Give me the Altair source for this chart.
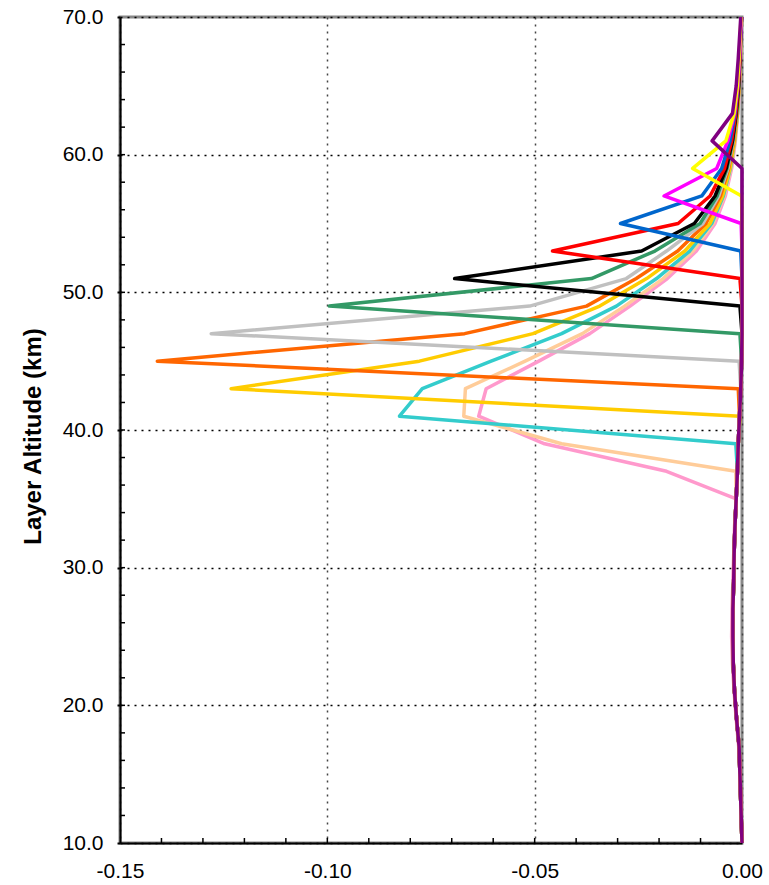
import altair as alt
import pandas as pd

# Layer altitudes (km), every 2 km
ALT = [9, 11, 13, 15, 17, 19, 21, 23, 25, 27, 29, 31, 33, 35, 37, 39,
       41, 43, 45, 47, 49, 51, 53, 55, 57, 59, 61, 63, 65, 67, 69, 71]

pink = [0, -0.0001, -0.0003, -0.0005, -0.0008, -0.0014, -0.0019, -0.0023, -0.0025, -0.0024,
        -0.0022, -0.0020, -0.0018, -0.0014, -0.0182, -0.0476, -0.0635, -0.0617, -0.0490, -0.0367,
        -0.0270, -0.0180, -0.0110, -0.0065, -0.0040, -0.0025, -0.0016, -0.0010, -0.0006, -0.0004,
        -0.0002, -0.0001]
peach = [0, -0.0001, -0.0003, -0.0005, -0.0007, -0.0013, -0.0018, -0.0021, -0.0022, -0.0022,
         -0.0020, -0.0019, -0.0017, -0.0014, -0.0015, -0.0435, -0.0671, -0.0667, -0.0523, -0.0385,
         -0.0283, -0.0190, -0.0118, -0.0070, -0.0043, -0.0027, -0.0017, -0.0011, -0.0007, -0.0004,
         -0.0002, -0.0001]
cyan = [0, -0.0001, -0.0003, -0.0005, -0.0007, -0.0013, -0.0018, -0.0021, -0.0022, -0.0022,
        -0.0020, -0.0019, -0.0017, -0.0014, -0.0011, -0.0015, -0.0826, -0.0771, -0.0605, -0.0435,
        -0.0303, -0.0206, -0.0126, -0.0073, -0.0045, -0.0028, -0.0018, -0.0011, -0.0007, -0.0004,
        -0.0002, -0.0001]
gold = [0, -0.0001, -0.0003, -0.0005, -0.0007, -0.0013, -0.0018, -0.0021, -0.0022, -0.0022,
        -0.0020, -0.0019, -0.0017, -0.0014, -0.0011, -0.0009, -0.0005, -0.1232, -0.0778, -0.0504,
        -0.0343, -0.0230, -0.0138, -0.0077, -0.0047, -0.0029, -0.0018, -0.0011, -0.0007, -0.0004,
        -0.0002, -0.0001]
orange = [0, -0.0001, -0.0003, -0.0005, -0.0007, -0.0013, -0.0018, -0.0021, -0.0022, -0.0022,
          -0.0020, -0.0019, -0.0017, -0.0014, -0.0011, -0.0009, -0.0006, -0.0009, -0.1410, -0.0669,
          -0.0375, -0.0255, -0.0155, -0.0087, -0.0052, -0.0032, -0.0020, -0.0012, -0.0007, -0.0004,
          -0.0002, -0.0001]
gray = [0, -0.0001, -0.0003, -0.0005, -0.0007, -0.0013, -0.0018, -0.0021, -0.0022, -0.0022,
        -0.0020, -0.0019, -0.0017, -0.0014, -0.0011, -0.0009, -0.0006, -0.0003, -0.0007, -0.1280,
        -0.0512, -0.0279, -0.0182, -0.0094, -0.0056, -0.0034, -0.0021, -0.0013, -0.0008, -0.0004,
        -0.0002, -0.0001]
green = [0, -0.0001, -0.0003, -0.0005, -0.0007, -0.0013, -0.0018, -0.0021, -0.0022, -0.0022,
         -0.0020, -0.0019, -0.0017, -0.0014, -0.0011, -0.0009, -0.0006, -0.0003, -0.0001, -0.0005,
         -0.0995, -0.0363, -0.0210, -0.0101, -0.0060, -0.0036, -0.0022, -0.0013, -0.0008, -0.0005,
         -0.0002, -0.0001]
black = [0, -0.0001, -0.0003, -0.0005, -0.0007, -0.0013, -0.0018, -0.0021, -0.0022, -0.0022,
         -0.0020, -0.0019, -0.0017, -0.0014, -0.0011, -0.0009, -0.0006, -0.0003, -0.0001, 0,
         -0.0005, -0.0693, -0.0242, -0.0115, -0.0065, -0.0038, -0.0023, -0.0014, -0.0008, -0.0005,
         -0.0003, -0.0001]
red = [0, -0.0001, -0.0003, -0.0005, -0.0007, -0.0013, -0.0018, -0.0021, -0.0022, -0.0022,
       -0.0020, -0.0019, -0.0017, -0.0014, -0.0011, -0.0009, -0.0006, -0.0003, -0.0001, 0,
       0, -0.0005, -0.0457, -0.0154, -0.0077, -0.0042, -0.0025, -0.0015, -0.0009, -0.0005,
       -0.0003, -0.0001]
blue = [0, -0.0001, -0.0003, -0.0005, -0.0007, -0.0013, -0.0018, -0.0021, -0.0022, -0.0022,
        -0.0020, -0.0019, -0.0017, -0.0014, -0.0011, -0.0009, -0.0006, -0.0003, -0.0001, 0,
        0, 0, -0.0003, -0.0293, -0.0097, -0.0049, -0.0029, -0.0017, -0.0010, -0.0006,
        -0.0003, -0.0001]
magenta = [0, -0.0001, -0.0003, -0.0005, -0.0007, -0.0013, -0.0018, -0.0021, -0.0022, -0.0022,
           -0.0020, -0.0019, -0.0017, -0.0014, -0.0011, -0.0009, -0.0006, -0.0003, -0.0001, 0,
           0, 0, 0, -0.0002, -0.0188, -0.0061, -0.0034, -0.0018, -0.0010, -0.0006,
           -0.0003, -0.0001]
yellow = [0, -0.0001, -0.0003, -0.0005, -0.0007, -0.0013, -0.0018, -0.0021, -0.0022, -0.0022,
          -0.0020, -0.0019, -0.0017, -0.0014, -0.0011, -0.0009, -0.0006, -0.0003, -0.0001, 0,
          0, 0, 0, 0, -0.0001, -0.0119, -0.0039, -0.0019, -0.0011, -0.0007,
          -0.0004, -0.0002]
purple = [0, -0.0001, -0.0003, -0.0005, -0.0007, -0.0013, -0.0018, -0.0021, -0.0022, -0.0022,
          -0.0020, -0.0019, -0.0017, -0.0014, -0.0011, -0.0009, -0.0006, -0.0003, -0.0001, 0,
          0, 0, 0, 0, 0, 0, -0.0072, -0.0023, -0.0014, -0.0009,
          -0.0005, -0.0003]

SERIES = [
    ("pink", pink, "#FF99CC"),
    ("peach", peach, "#FFCC99"),
    ("cyan", cyan, "#33CCCC"),
    ("gold", gold, "#FFCC00"),
    ("orange", orange, "#FF6600"),
    ("gray", gray, "#C0C0C0"),
    ("green", green, "#339966"),
    ("black", black, "#000000"),
    ("red", red, "#FF0000"),
    ("blue", blue, "#0066CC"),
    ("magenta", magenta, "#FF00FF"),
    ("yellow", yellow, "#FFFF00"),
    ("purple", purple, "#800080"),
]

X_TICKS = [-0.15, -0.10, -0.05, 0.0]
Y_TICKS = [10, 20, 30, 40, 50, 60, 70]
X_MINOR = [-0.14, -0.13, -0.12, -0.11, -0.10, -0.09, -0.08, -0.07, -0.06, -0.05,
           -0.04, -0.03, -0.02, -0.01]
Y_MINOR = [12, 14, 16, 18, 20, 22, 24, 26, 28, 30, 32, 34, 36, 38, 40, 42, 44, 46,
           48, 50, 52, 54, 56, 58, 60, 62, 64, 66, 68]

W, H = 622, 826
FONT = "Liberation Sans"

xscale = alt.Scale(domain=[-0.15, 0.0], nice=False, zero=False)
yscale = alt.Scale(domain=[10, 70], nice=False, zero=False, clamp=True)

xaxis = alt.Axis(values=X_TICKS, format=".2f", title="", labelFontSize=21, labelFont=FONT,
                 labelExpr="replace(datum.label, '\u2212', '-')",
                 labelColor="black", labelPadding=17, ticks=False, tickSize=0,
                 grid=True, gridColor="#444444", gridDash=[2, 5], gridWidth=1.5,
                 domain=True, domainColor="black", domainWidth=2,
                 labelOverlap=False, labelFlush=False, labelBound=False)
yaxis = alt.Axis(values=Y_TICKS, format=".1f", title="Layer Altitude (km)",
                 labelFontSize=21, labelFont=FONT, labelColor="black", labelPadding=14,
                 ticks=True, tickSize=3, tickColor="black", tickWidth=2,
                 grid=True, gridColor="#000000", gridDash=[2, 5], gridWidth=1.5,
                 domain=True, domainColor="black", domainWidth=2,
                 titleFont=FONT, titleFontSize=24, titleFontWeight="bold", titleColor="black",
                 titleAngle=270, titleX=-87, titleY=419, titleAlign="center",
                 titleBaseline="middle", labelOverlap=False, labelFlush=False)

layers = []
for name, vals, col in SERIES:
    df = pd.DataFrame({"x": vals, "alt": ALT})
    layers.append(
        alt.Chart(df).mark_line(color=col, strokeWidth=3.5, strokeJoin="round")
        .encode(x=alt.X("x:Q", scale=xscale, axis=xaxis),
                y=alt.Y("alt:Q", scale=yscale, axis=yaxis),
                order=alt.Order("alt:Q"))
    )

xt = alt.Chart(pd.DataFrame({"x": X_MINOR})).mark_rule(color="black", strokeWidth=1.5).encode(
    x=alt.X("x:Q", scale=xscale, axis=xaxis), y=alt.value(H), y2=alt.value(H - 5))
yt = alt.Chart(pd.DataFrame({"alt": Y_MINOR})).mark_rule(color="black", strokeWidth=1.5).encode(
    y=alt.Y("alt:Q", scale=yscale, axis=yaxis), x=alt.value(0), x2=alt.value(5))

chart = alt.layer(*layers, xt, yt).properties(
    width=W, height=H,
    padding={"left": 120, "top": 17, "right": 27, "bottom": 42},
    autosize=alt.AutoSizeParams(type="none"),
    background="white",
).configure_view(stroke="#888888", strokeWidth=3)

chart.save("out.html", embed_options={"renderer": "svg", "actions": False})
